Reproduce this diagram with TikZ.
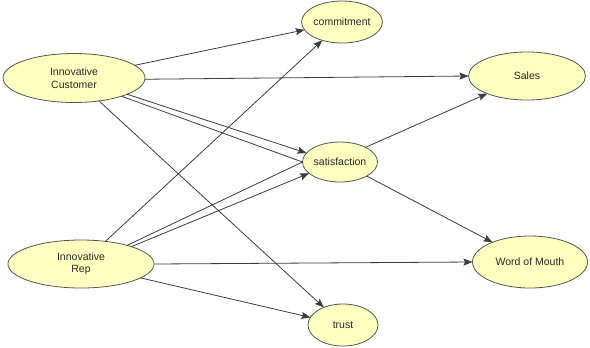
\documentclass[tikz,border=0pt]{standalone}
\usepackage{fontspec}
\setmainfont{Liberation Sans}
\usetikzlibrary{shapes.geometric,arrows.meta}
\definecolor{nodefill}{RGB}{255,255,192}
\definecolor{nodeline}{RGB}{85,85,85}
\definecolor{edgeline}{RGB}{60,60,60}
\definecolor{labeltext}{RGB}{40,40,40}
\begin{document}
\begin{tikzpicture}[x=1bp,y=-1bp,
  construct/.style={ellipse, draw=nodeline, fill=nodefill, line width=0.8bp,
    inner sep=0pt, outer sep=0pt, text=labeltext, align=center,
    font=\fontsize{10.5bp}{12.5bp}\selectfont},
  path/.style={draw=edgeline, line width=0.8bp,
    -{Stealth[length=9bp,width=7bp,inset=1.5bp]}},
  plain/.style={draw=edgeline, line width=0.8bp}]
\useasboundingbox (0,0) rectangle (590,347);

% constructs
\node[construct, minimum width=142bp, minimum height=49bp] (cust) at (74,78) {Innovative\\Customer};
\node[construct, minimum width=146bp, minimum height=48bp] (rep) at (81,264) {Innovative\\Rep};
\node[construct, minimum width=80bp, minimum height=42bp] (comm) at (342,22) {commitment};
\node[construct, minimum width=75bp, minimum height=40bp] (sat) at (340,162) {satisfaction};
\node[construct, minimum width=70bp, minimum height=42bp] (trust) at (343,325) {trust};
\node[construct, minimum width=117bp, minimum height=48bp] (sales) at (527,76) {Sales};
\node[construct, minimum width=115bp, minimum height=52bp] (wom) at (530,262) {Word of Mouth};

% paths from Innovative Customer
\draw[path] (cust) -- (comm);
\draw[path] (cust.-1) -- (sales.180);
\draw[path] (cust.-17) -- (sat.165);
\draw[plain] (cust.-21) -- (sat.west);
\draw[path] (cust) -- (trust);

% paths from Innovative Rep
\draw[path] (rep) -- (comm);
\draw[plain] (rep.22) -- (sat.west);
\draw[path] (rep.19) -- (sat.200);
\draw[path] (rep.0) -- (wom.180);
\draw[path] (rep) -- (trust);

% paths from satisfaction
\draw[path] (sat.30) -- (sales);
\draw[path] (sat) -- (wom);
\end{tikzpicture}
\end{document}
